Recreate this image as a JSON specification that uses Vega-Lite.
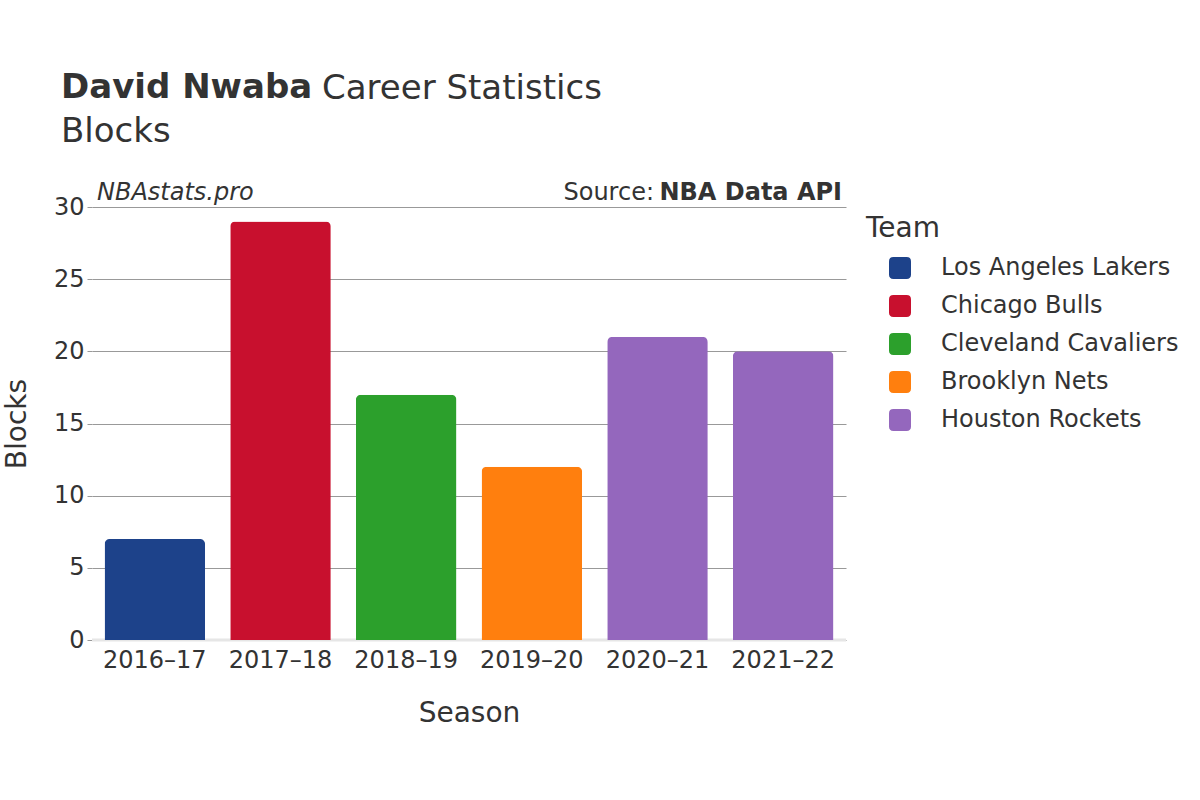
{
  "$schema": "https://vega.github.io/schema/vega-lite/v6.json",
  "width": 754,
  "height": 433,
  "autosize": {"type": "none"},
  "padding": {"left": 92, "top": 207, "right": 354, "bottom": 160},
  "background": "white",
  "config": {
    "font": "DejaVu Sans",
    "view": {"stroke": null},
    "axis": {"labelColor": "#333333", "titleColor": "#333333", "titleFontWeight": "normal"},
    "legend": {"labelColor": "#333333", "titleColor": "#333333", "titleFontWeight": "normal"}
  },
  "title": {
    "text": "David Nwaba",
    "subtitle": "Blocks",
    "anchor": "start",
    "frame": "group",
    "dx": -31,
    "offset": -77,
    "fontSize": 34,
    "fontWeight": "bold",
    "color": "#333333",
    "subtitleFontSize": 34,
    "subtitleColor": "#333333",
    "subtitlePadding": 10
  },
  "data": {
    "values": [
      {"Season": "2016–17", "Team": "Los Angeles Lakers", "Blocks": 7},
      {"Season": "2017–18", "Team": "Chicago Bulls", "Blocks": 29},
      {"Season": "2018–19", "Team": "Cleveland Cavaliers", "Blocks": 17},
      {"Season": "2019–20", "Team": "Brooklyn Nets", "Blocks": 12},
      {"Season": "2020–21", "Team": "Houston Rockets", "Blocks": 21},
      {"Season": "2021–22", "Team": "Houston Rockets", "Blocks": 20}
    ]
  },
  "layer": [
    {
      "data": {"values": [{"Blocks": 0}]},
      "mark": {"type": "rule", "color": "#e6e6e6", "strokeWidth": 3},
      "encoding": {"y": {"field": "Blocks", "type": "quantitative"}}
    },
    {
      "mark": {"type": "bar", "cornerRadiusTopLeft": 5, "cornerRadiusTopRight": 5},
      "encoding": {
        "x": {
          "field": "Season",
          "type": "nominal",
          "sort": null,
          "scale": {"paddingInner": 0.2, "paddingOuter": 0.1},
          "axis": {
            "title": "Season",
            "labelAngle": 0,
            "ticks": false,
            "domain": false,
            "labelFontSize": 24,
            "titleFontSize": 28,
            "labelPadding": 8,
            "titlePadding": 27
          }
        },
        "y": {
          "field": "Blocks",
          "type": "quantitative",
          "scale": {"domain": [0, 30], "nice": false},
          "axis": {
            "title": "Blocks",
            "values": [0, 5, 10, 15, 20, 25, 30],
            "grid": true,
            "gridColor": "#999999",
            "gridWidth": 1,
            "domain": false,
            "tickColor": "#999999",
            "tickSize": 5,
            "labelPadding": 3,
            "labelFontSize": 24,
            "titleFontSize": 28,
            "titlePadding": 22
          }
        },
        "color": {
          "field": "Team",
          "type": "nominal",
          "scale": {
            "domain": ["Los Angeles Lakers", "Chicago Bulls", "Cleveland Cavaliers", "Brooklyn Nets", "Houston Rockets"],
            "range": ["#1D428A", "#C8102E", "#2CA02C", "#FF7F0E", "#9467BD"]
          },
          "legend": {
            "title": "Team",
            "orient": "none",
            "legendX": 774,
            "legendY": 8,
            "padding": 0,
            "titleFontSize": 28,
            "labelFontSize": 24,
            "labelLimit": 400,
            "symbolType": "M -0.6,-1 L 0.6,-1 Q 1,-1 1,-0.6 L 1,0.6 Q 1,1 0.6,1 L -0.6,1 Q -1,1 -1,0.6 L -1,-0.6 Q -1,-1 -0.6,-1 Z",
            "symbolSize": 484,
            "symbolStrokeWidth": 0,
            "symbolOpacity": 1,
            "symbolOffset": 22,
            "labelOffset": 29,
            "rowPadding": 14,
            "titlePadding": 13
          }
        }
      }
    },
    {
      "data": {"values": [{"t": "NBAstats.pro"}]},
      "mark": {"type": "text", "align": "left", "baseline": "alphabetic", "fontSize": 24, "fontStyle": "italic", "color": "#333333"},
      "encoding": {"text": {"field": "t"}, "x": {"value": 5}, "y": {"value": -7}}
    },
    {
      "data": {"values": [{"t": "Source:"}]},
      "mark": {"type": "text", "align": "right", "baseline": "alphabetic", "fontSize": 24, "color": "#333333"},
      "encoding": {"text": {"field": "t"}, "x": {"value": 562}, "y": {"value": -7}}
    },
    {
      "data": {"values": [{"t": "NBA Data API"}]},
      "mark": {"type": "text", "align": "right", "baseline": "alphabetic", "fontSize": 24, "fontWeight": "bold", "color": "#333333"},
      "encoding": {"text": {"field": "t"}, "x": {"value": 750}, "y": {"value": -7}}
    },
    {
      "data": {"values": [{"t": "Career Statistics"}]},
      "mark": {"type": "text", "align": "left", "baseline": "alphabetic", "fontSize": 34, "color": "#333333"},
      "encoding": {"text": {"field": "t"}, "x": {"value": 230}, "y": {"value": -108}}
    }
  ]
}
